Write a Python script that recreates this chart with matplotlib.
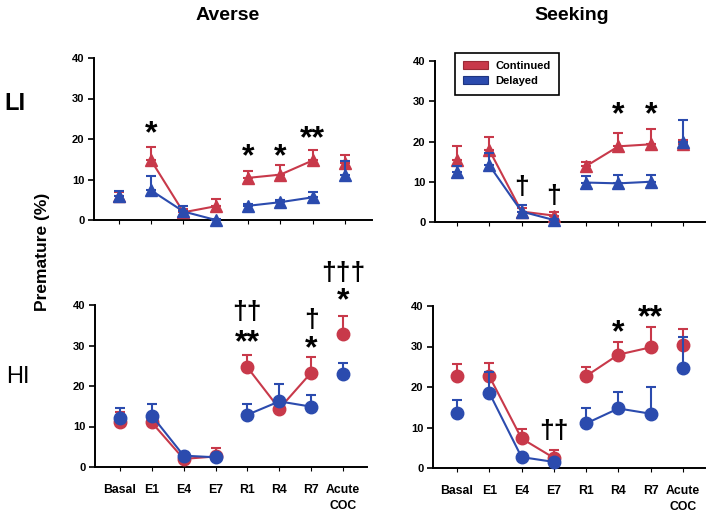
import matplotlib
matplotlib.use("Agg")
import matplotlib.pyplot as plt
from matplotlib.patches import Patch
import numpy as np

SANS = "Liberation Sans"
plt.rcParams['font.family'] = [SANS, 'DejaVu Sans']

categories = ["Basal", "E1", "E4", "E7", "R1", "R4", "R7", "Acute\nCOC"]

# Averse, LI (triangles)
av_li_cont = [6.0, 14.7, 1.9, 3.4, 10.4, 11.2, 14.7, 14.0]
av_li_cont_err = [1.0, 3.3, 0.8, 1.8, 1.8, 2.4, 2.7, 2.1]
av_li_del = [6.0, 7.3, 2.1, 0.0, 3.5, 4.4, 5.6, 11.2]
av_li_del_err = [1.2, 3.6, 1.4, 0.3, 0.5, 0.6, 1.4, 3.3]

# Seeking, LI (triangles)
se_li_cont = [15.4, 17.9, 2.6, 1.6, 13.9, 18.8, 19.3, 19.3]
se_li_cont_err = [3.4, 3.1, 1.0, 0.8, 1.0, 3.3, 3.8, 1.0]
se_li_del = [12.5, 14.1, 2.6, 0.5, 9.8, 9.6, 10.0, 19.9]
se_li_del_err = [1.5, 3.0, 1.5, 0.3, 1.6, 2.1, 1.7, 5.4]

# Averse, HI (circles)
av_hi_cont = [11.0, 11.0, 2.0, 2.6, 24.6, 14.4, 23.3, 32.8]
av_hi_cont_err = [2.5, 2.0, 1.0, 2.1, 3.1, 1.5, 3.8, 4.5]
av_hi_del = [12.1, 12.7, 2.8, 2.4, 12.9, 16.2, 14.9, 22.9]
av_hi_del_err = [2.4, 2.9, 0.8, 0.8, 2.7, 4.3, 3.0, 2.7]

# Seeking, HI (circles)
se_hi_cont = [22.7, 22.7, 7.3, 2.5, 22.7, 28.0, 29.8, 30.4]
se_hi_cont_err = [2.9, 3.3, 2.4, 1.9, 2.3, 3.0, 4.9, 3.8]
se_hi_del = [13.6, 18.6, 2.7, 1.5, 11.0, 14.7, 13.4, 24.6]
se_hi_del_err = [3.3, 5.2, 0.8, 0.6, 3.9, 4.1, 6.5, 7.8]

# significance marks: (category index, y value, text)
av_li_marks = [(1, 22.7, "*"), (4, 17.1, "*"), (5, 17.1, "*"), (6, 21.6, "**")]
se_li_marks = [(2, 8.8, "\u2020"), (3, 6.7, "\u2020"), (5, 28.2, "*"), (6, 28.2, "*")]
av_hi_marks = [(4, 38.4, "\u2020\u2020"), (4, 32.2, "**"), (6, 36.5, "\u2020"),
               (6, 30.7, "*"), (7, 48.2, "\u2020\u2020\u2020"), (7, 42.5, "*")]
se_hi_marks = [(3, 9.3, "\u2020\u2020"), (5, 34.9, "*"), (6, 38.6, "**")]

RED = "#C8394A"
BLUE = "#2B4BAE"

W, H = 708, 517
fig = plt.figure(figsize=(W / 100, H / 100), dpi=100)


def add_axes_px(x0, x1, y0, y1):
    return fig.add_axes([x0 / W, 1 - y1 / H, (x1 - x0) / W, (y1 - y0) / H])


segments = [[0], [1, 2, 3], [4, 5, 6], [7]]


def draw(ax, cont, cont_err, dele, dele_err, marker, ms, marks, xlim, show_labels):
    x = np.arange(len(categories))
    for vals, errs, color, z in [(cont, cont_err, RED, 3), (dele, dele_err, BLUE, 4)]:
        vals = np.asarray(vals)
        errs = np.asarray(errs)
        ax.errorbar(x, vals, yerr=[np.zeros_like(errs), errs], fmt='none',
                    ecolor=color, elinewidth=1.5, capsize=3.5, capthick=1.5,
                    zorder=z, clip_on=False)
        for seg in segments:
            ax.plot(x[seg], vals[seg], color=color, lw=1.5, marker=marker,
                    ms=ms, mec=color, mfc=color, zorder=z + 0.5, clip_on=False)
    for xi, yi, txt in marks:
        if "*" in txt:
            fs = 23
            off = -0.45 * fs
        else:
            fs = 19
            off = -0.30 * fs
        ax.annotate(txt, xy=(xi, yi), xytext=(0, off), textcoords='offset points',
                    ha='center', va='baseline', fontsize=fs, fontweight='bold',
                    family=[SANS, 'DejaVu Sans'], annotation_clip=False, zorder=6)
    ax.set_xlim(*xlim)
    ax.set_ylim(0, 40)
    ax.set_yticks([0, 10, 20, 30, 40])
    ax.set_xticks(x)
    for s in ['top', 'right']:
        ax.spines[s].set_visible(False)
    for s in ['left', 'bottom']:
        ax.spines[s].set_linewidth(1.4)
    ax.tick_params(axis='y', length=4, width=1.2, labelsize=8, pad=3)
    ax.tick_params(axis='x', length=3, width=0.8, pad=9)
    for lab in ax.get_yticklabels():
        lab.set_fontweight('bold')
    if show_labels:
        ax.set_xticklabels(categories, fontsize=8.8, fontweight='bold',
                           family=SANS, linespacing=1.5)
    else:
        ax.set_xticklabels([])


ax1 = add_axes_px(94, 372, 58, 220)
draw(ax1, av_li_cont, av_li_cont_err, av_li_del, av_li_del_err, '^', 9,
     av_li_marks, (-0.77, 7.84), False)

ax2 = add_axes_px(435, 705, 61, 222)
draw(ax2, se_li_cont, se_li_cont_err, se_li_del, se_li_del_err, '^', 9,
     se_li_marks, (-0.68, 7.68), False)

ax3 = add_axes_px(95, 367, 305, 467)
draw(ax3, av_hi_cont, av_hi_cont_err, av_hi_del, av_hi_del_err, 'o', 9,
     av_hi_marks, (-0.78, 7.75), True)

ax4 = add_axes_px(433, 705, 306, 468)
draw(ax4, se_hi_cont, se_hi_cont_err, se_hi_del, se_hi_del_err, 'o', 9,
     se_hi_marks, (-0.74, 7.68), True)

handles = [Patch(facecolor=RED, edgecolor="#9A2A36", lw=0.8, label="Continued"),
           Patch(facecolor=BLUE, edgecolor="#1E3580", lw=0.8, label="Delayed")]
leg = ax2.legend(handles=handles, loc='upper left', bbox_to_anchor=(0.074, 1.05),
                 frameon=True, fancybox=False, edgecolor='black', framealpha=1,
                 prop={'weight': 'bold', 'size': 8, 'family': SANS},
                 handlelength=2.2, handleheight=0.75, labelspacing=0.45,
                 borderpad=0.75, handletextpad=0.7, borderaxespad=0)
leg.get_frame().set_linewidth(1.2)

fig.text(228 / W, 1 - 16 / H, "Averse", ha='center', va='center', fontsize=14,
         fontweight='bold', family=SANS)
fig.text(572 / W, 1 - 16 / H, "Seeking", ha='center', va='center', fontsize=14,
         fontweight='bold', family=SANS)
fig.text(15 / W, 1 - 103 / H, "LI", ha='center', va='center', fontsize=17,
         fontweight='bold', family=SANS)
fig.text(18 / W, 1 - 377 / H, "HI", ha='center', va='center', fontsize=17,
         family=SANS)
fig.text(43 / W, 1 - 252 / H, "Premature (%)", ha='center', va='center',
         fontsize=12.5, fontweight='bold', rotation=90, family=SANS)

fig.savefig("out.png", dpi=100)
